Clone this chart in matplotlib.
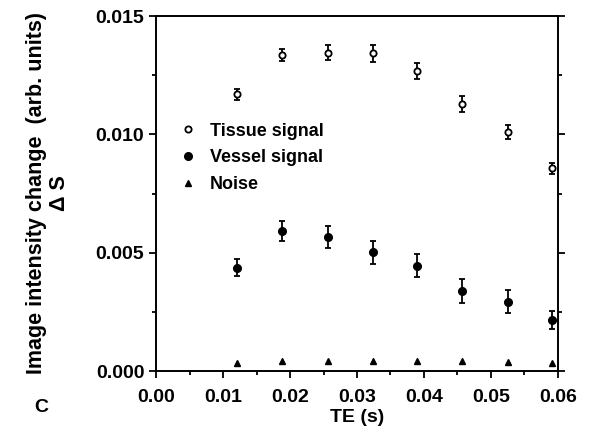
import matplotlib
matplotlib.use("Agg")
import matplotlib.pyplot as plt
from matplotlib.lines import Line2D
from matplotlib.ticker import MultipleLocator, FormatStrFormatter

# echo times (s)
te = [0.0121, 0.0188, 0.0256, 0.0324, 0.0390, 0.0457, 0.0525, 0.0592]

tissue = [0.01170, 0.01335, 0.01345, 0.01342, 0.01268, 0.01128, 0.01009, 0.00856]
tissue_err = [0.00023, 0.00025, 0.00032, 0.00035, 0.00033, 0.00035, 0.00030, 0.00022]

vessel = [0.00437, 0.00592, 0.00568, 0.00501, 0.00445, 0.00338, 0.00293, 0.00215]
vessel_err = [0.00037, 0.00044, 0.00046, 0.00049, 0.00049, 0.00050, 0.00049, 0.00038]

noise = [0.00032, 0.00044, 0.00044, 0.00044, 0.00044, 0.00044, 0.00037, 0.00032]

plt.rcParams['font.family'] = ['Liberation Sans', 'DejaVu Sans']
plt.rcParams['font.weight'] = 'bold'

fig = plt.figure(figsize=(5.96, 4.34), dpi=100)
ax = fig.add_axes([0.262, 0.145, 0.674, 0.818])

ax.errorbar(te, tissue, yerr=tissue_err, fmt='o', mfc='white', mec='black', mew=1.3,
            ms=4.5, color='black', ecolor='black', elinewidth=1.3, capsize=2.5,
            capthick=1.3)
ax.errorbar(te, vessel, yerr=vessel_err, fmt='o', mfc='black', mec='black',
            ms=5.5, color='black', ecolor='black', elinewidth=1.3, capsize=2.5,
            capthick=1.3)
ax.plot(te, noise, '^', color='black', ms=5)

ax.set_xlim(0, 0.06)
ax.set_ylim(0, 0.015)
ax.xaxis.set_major_locator(MultipleLocator(0.01))
ax.xaxis.set_minor_locator(MultipleLocator(0.005))
ax.yaxis.set_major_locator(MultipleLocator(0.005))
ax.yaxis.set_minor_locator(MultipleLocator(0.0025))
ax.xaxis.set_major_formatter(FormatStrFormatter('%.2f'))
ax.yaxis.set_major_formatter(FormatStrFormatter('%.3f'))

ax.tick_params(which='both', direction='out', right=True, width=1.3, labelsize=14)
ax.tick_params(which='major', length=5)
ax.tick_params(which='minor', length=3)
ax.tick_params(axis='x', pad=8)
for s in ax.spines.values():
    s.set_linewidth(1.4)

ax.set_xlabel('TE (s)', fontsize=14, fontweight='bold', labelpad=2)
fig.text(0.081, 0.555, 'Image intensity change  (arb. units)\nΔ S', rotation=90,
         ha='center', va='center', multialignment='center',
         fontsize=15.5, fontweight='bold', linespacing=1.1)
fig.text(0.07, 0.06, 'C', fontsize=14, fontweight='bold', ha='center', va='center')

handles = [
    Line2D([], [], ls='none', marker='o', mfc='white', mec='black', mew=1.3, ms=4.5),
    Line2D([], [], ls='none', marker='o', mfc='black', mec='black', ms=5.5),
    Line2D([], [], ls='none', marker='^', color='black', ms=5),
]
labels = ['Tissue signal', 'Vessel signal', 'Noise']
ax.legend(handles, labels, loc='upper left', bbox_to_anchor=(0.057, 0.70),
          frameon=False, fontsize=13, handletextpad=0.7, labelspacing=0.55,
          handlelength=1.0, borderaxespad=0, borderpad=0)

plt.savefig('out.png', dpi=100)
